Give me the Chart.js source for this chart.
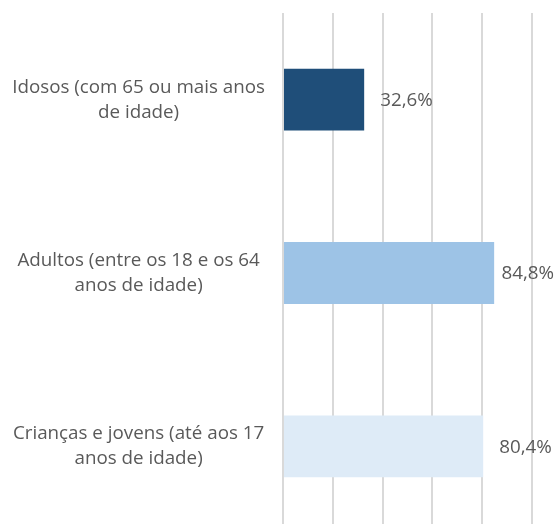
<!DOCTYPE html>
<html>
<head>
<meta charset="utf-8">
<script src="https://cdn.jsdelivr.net/npm/chart.js@4"></script>
<style>
  html, body { margin: 0; padding: 0; background: #fff; overflow: hidden; }
  #wrap { width: 554px; height: 533px; }
</style>
</head>
<body>
<div id="wrap"><canvas id="myChart"></canvas></div>
<script>
const categories = [
  ["Idosos (com 65 ou mais anos", "de idade)"],
  ["Adultos (entre os 18 e os 64", "anos de idade)"],
  ["Crianças e jovens (até aos 17", "anos de idade)"]
];
const values = [32.6, 84.8, 80.4];
const barColors = ["#1f4e79", "#9dc3e6", "#deebf7"];

const textColor = "#595959";
const fontFamily = "'Open Sans', 'Noto Sans', sans-serif";
const fontSize = 18.8;

// writes "32,6%" style labels just past the end of each bar,
// pulled back in when they would run off the right edge
const valueLabels = {
  id: 'valueLabels',
  afterDatasetsDraw(chart) {
    const ctx = chart.ctx;
    const meta = chart.getDatasetMeta(0);
    ctx.save();
    ctx.font = fontSize + "px " + fontFamily;
    ctx.fillStyle = textColor;
    ctx.textAlign = 'left';
    ctx.textBaseline = 'middle';
    meta.data.forEach((bar, i) => {
      const txt = values[i].toFixed(1).replace('.', ',') + '%';
      const w = ctx.measureText(txt).width;
      const x = Math.min(bar.x + 16, chart.width - w);
      ctx.fillText(txt, x, bar.y + 1);
    });
    ctx.restore();
  }
};

const config = {
  type: 'bar',
  data: {
    labels: categories,
    datasets: [{
      data: values,
      backgroundColor: barColors,
      borderWidth: 0,
      categoryPercentage: 1,
      barPercentage: 0.357
    }]
  },
  options: {
    indexAxis: 'y',
    responsive: true,
    maintainAspectRatio: false,
    animation: false,
    layout: { padding: { top: 13, right: 22, left: 0, bottom: 0 } },
    scales: {
      x: {
        min: 0,
        max: 100,
        ticks: { display: false, stepSize: 20 },
        grid: { color: '#d9d9d9', lineWidth: 2, drawTicks: false },
        border: { display: false }
      },
      y: {
        grid: { display: false, drawTicks: false },
        border: { display: false },
        afterFit(scale) {
          scale.width = 283;
          scale.paddingTop = 0;
          scale.paddingBottom = 0;
        },
        ticks: {
          crossAlign: 'center',
          padding: 18,
          color: textColor,
          font: { family: fontFamily, size: fontSize, lineHeight: 1.33 }
        }
      }
    },
    plugins: {
      legend: { display: false },
      tooltip: { enabled: false }
    }
  },
  plugins: [valueLabels]
};

let myChart = new Chart(document.getElementById('myChart'), config);
</script>
</body>
</html>
